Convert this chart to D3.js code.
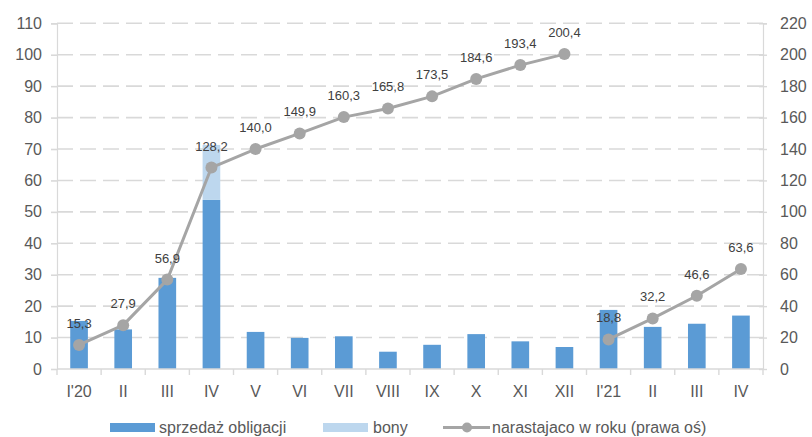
<!DOCTYPE html>
<html>
<head>
<meta charset="utf-8">
<script src="https://cdn.jsdelivr.net/npm/d3@7"></script>
<style>
  html, body { margin: 0; padding: 0; background: #fff; }
  svg { display: block; font-family: "Liberation Sans", Arial, sans-serif; }
</style>
</head>
<body>
<svg id="chart" width="812" height="437"></svg>
<script>
// Monthly sales (left axis) and year-to-date cumulative total (right axis)
const categories = ["I'20", "II", "III", "IV", "V", "VI", "VII", "VIII", "IX", "X", "XI", "XII", "I'21", "II", "III", "IV"];
const obligacje = [15.3, 12.6, 29.0, 53.8, 11.8, 9.9, 10.4, 5.5, 7.7, 11.1, 8.8, 7.0, 18.8, 13.4, 14.4, 17.0];
const bony = [0, 0, 0, 17.5, 0, 0, 0, 0, 0, 0, 0, 0, 0, 0, 0, 0];
const narastajaco = [15.3, 27.9, 56.9, 128.2, 140.0, 149.9, 160.3, 165.8, 173.5, 184.6, 193.4, 200.4, 18.8, 32.2, 46.6, 63.6];
const leftTicks = [0, 10, 20, 30, 40, 50, 60, 70, 80, 90, 100, 110];
const rightTicks = [0, 20, 40, 60, 80, 100, 120, 140, 160, 180, 200, 220];
const legendLabels = ["sprzedaż obligacji", "bony", "narastajaco w roku (prawa oś)"];

const svg = d3.select("#chart");
const plot = { left: 57, right: 763, top: 23.3, bottom: 369 };
const colors = { obl: "#5b9bd5", bony: "#bdd7ee", line: "#a5a5a5", grid: "#d9d9d9", text: "#595959", label: "#404040" };

const x = d3.scaleBand().domain(d3.range(categories.length))
  .range([plot.left, plot.right]).paddingInner(0.6).paddingOuter(0.3);
const yL = d3.scaleLinear().domain([0, 110]).range([plot.bottom, plot.top]);
const yR = d3.scaleLinear().domain([0, 220]).range([plot.bottom, plot.top]);

// dashed horizontal gridlines
svg.append("g").selectAll("line").data(leftTicks.filter(d => d > 0)).join("line")
  .attr("x1", plot.left).attr("x2", plot.right)
  .attr("y1", d => yL(d)).attr("y2", d => yL(d))
  .attr("stroke", colors.grid).attr("stroke-width", 1.6).attr("stroke-dasharray", "16,7");

// left axis
const axL = svg.append("g").attr("transform", `translate(${plot.left},0)`)
  .call(d3.axisLeft(yL).tickValues(leftTicks).tickSize(6).tickPadding(9));
axL.select(".domain").attr("stroke", colors.grid).attr("stroke-width", 1.2);
axL.selectAll(".tick line").attr("stroke", colors.grid).attr("stroke-width", 1.6);
axL.selectAll("text").attr("fill", colors.text).style("font-size", "16px").style("font-family", "Liberation Sans, Arial, sans-serif");

// right axis
const axR = svg.append("g").attr("transform", `translate(${plot.right},0)`)
  .call(d3.axisRight(yR).tickValues(rightTicks).tickSize(4).tickPadding(13));
axR.select(".domain").attr("stroke", colors.grid).attr("stroke-width", 1.2);
axR.selectAll(".tick line").attr("stroke", colors.grid).attr("stroke-width", 1.4).attr("x1", -4);
axR.selectAll("text").attr("fill", colors.text).style("font-size", "16px").style("font-family", "Liberation Sans, Arial, sans-serif");

// bars: bonds below, bills stacked on top
const bars = svg.append("g");
bars.selectAll("rect.obl").data(obligacje).join("rect").attr("class", "obl")
  .attr("x", (d, i) => x(i)).attr("width", x.bandwidth())
  .attr("y", d => yL(d)).attr("height", d => yL(0) - yL(d))
  .attr("fill", colors.obl);
bars.selectAll("rect.bony").data(bony).join("rect").attr("class", "bony")
  .attr("x", (d, i) => x(i)).attr("width", x.bandwidth())
  .attr("y", (d, i) => yL(obligacje[i] + d)).attr("height", (d, i) => yL(obligacje[i]) - yL(obligacje[i] + d))
  .attr("fill", colors.bony);

// category axis
const step = x.step();
const axX = svg.append("g").attr("transform", `translate(0,${plot.bottom})`);
axX.append("line").attr("x1", plot.left).attr("x2", plot.right).attr("stroke", colors.grid).attr("stroke-width", 1.6);
axX.selectAll("line.tk").data(d3.range(categories.length + 1)).join("line").attr("class", "tk")
  .attr("x1", i => plot.left + i * step).attr("x2", i => plot.left + i * step)
  .attr("y1", 0).attr("y2", 6).attr("stroke", colors.grid).attr("stroke-width", 1.4);
axX.selectAll("text").data(categories).join("text")
  .attr("x", (d, i) => x(i) + x.bandwidth() / 2).attr("y", 28)
  .attr("text-anchor", "middle").attr("fill", colors.text).style("font-size", "16px")
  .text(d => d);

// cumulative line, broken at the start of each year
const cx = i => x(i) + x.bandwidth() / 2;
const segs = [d3.range(0, 12), d3.range(12, 16)];
const lineG = svg.append("g");
segs.forEach(idx => {
  lineG.append("path")
    .attr("d", d3.line().x(i => cx(i)).y(i => yR(narastajaco[i]))(idx))
    .attr("fill", "none").attr("stroke", colors.line).attr("stroke-width", 3).attr("stroke-linejoin", "round");
});
lineG.selectAll("circle").data(narastajaco).join("circle")
  .attr("cx", (d, i) => cx(i)).attr("cy", d => yR(d)).attr("r", 6)
  .attr("fill", colors.line);

// value labels above markers
const fmt = v => d3.format(".1f")(v).replace(".", ",");
svg.append("g").selectAll("text").data(narastajaco).join("text")
  .attr("x", (d, i) => cx(i)).attr("y", d => yR(d) - 17)
  .attr("text-anchor", "middle").attr("fill", colors.label).style("font-size", "13px")
  .text(d => fmt(d));

// legend
const lg = svg.append("g");
lg.append("rect").attr("x", 110).attr("y", 423).attr("width", 45).attr("height", 9).attr("fill", colors.obl);
lg.append("text").attr("x", 159).attr("y", 433).attr("fill", colors.text).style("font-size", "16px").text(legendLabels[0]);
lg.append("rect").attr("x", 323).attr("y", 423).attr("width", 45).attr("height", 9).attr("fill", colors.bony);
lg.append("text").attr("x", 373).attr("y", 433).attr("fill", colors.text).style("font-size", "16px").text(legendLabels[1]);
lg.append("line").attr("x1", 443).attr("x2", 490).attr("y1", 427.5).attr("y2", 427.5).attr("stroke", colors.line).attr("stroke-width", 3);
lg.append("circle").attr("cx", 467).attr("cy", 427.5).attr("r", 5).attr("fill", colors.line);
lg.append("text").attr("x", 492).attr("y", 433).attr("fill", colors.text).style("font-size", "16px").text(legendLabels[2]);
</script>
</body>
</html>
